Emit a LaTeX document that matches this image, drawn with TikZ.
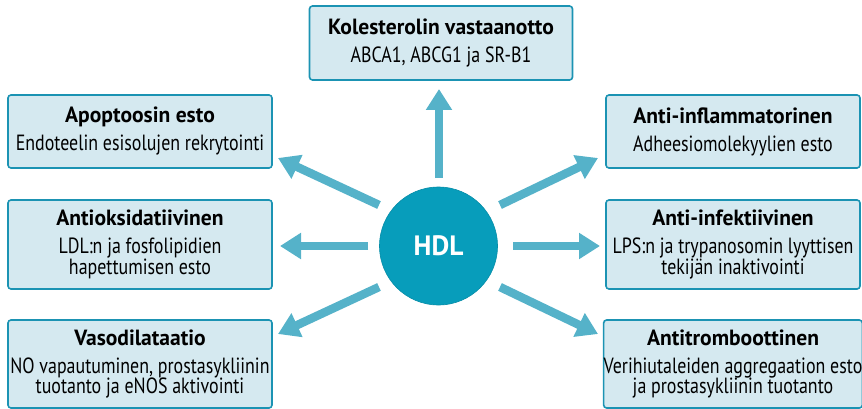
\documentclass[tikz,border=0pt]{standalone}
\usepackage{fontspec}
\setmainfont{PT Sans}[FakeStretch=0.815]
\newfontfamily\ttlfont{PT Sans}[FakeStretch=0.98]
\usetikzlibrary{arrows.meta}
\definecolor{boxfill}{HTML}{D5E9F0}
\definecolor{boxline}{HTML}{1B93B3}
\definecolor{hdlfill}{HTML}{079DBB}
\definecolor{arrcol}{HTML}{55B2C9}
\tikzset{
  infobox/.style={draw=boxline, fill=boxfill, line width=1.6pt, rounded corners=3pt,
    align=center, inner sep=0pt, font=\fontsize{22}{20.5}\selectfont},
  bigarrow/.style={draw=arrcol, line width=8.5pt, -{Triangle[width=25pt,length=21pt]}},
}
\newcommand{\ttl}[1]{{\ttlfont\bfseries #1}\\[7.5pt]}
\begin{document}
\begin{tikzpicture}[x=1pt,y=-1pt]
\useasboundingbox (0,0) rectangle (862,409);
% boxes
\node[infobox, minimum width=263pt, minimum height=74pt] (kol) at (441,43) {\ttl{Kolesterolin vastaanotto}ABCA1, ABCG1 ja SR-B1};
\node[infobox, minimum width=264pt, minimum height=73pt] (apo) at (140,131.5) {\ttl{Apoptoosin esto}Endoteelin esisolujen rekrytointi};
\node[infobox, minimum width=264pt, minimum height=89pt] (aox) at (140,244.5) {\ttl{Antioksidatiivinen}LDL:n ja fosfolipidien\\hapettumisen esto};
\node[infobox, minimum width=264pt, minimum height=88pt] (vaso) at (140,364) {\ttl{Vasodilataatio}NO vapautuminen, prostasykliinin\\tuotanto ja eNOS aktivointi};
\node[infobox, minimum width=254pt, minimum height=73pt] (ainf) at (733,131.5) {\ttl{Anti-inflammatorinen}Adheesiomolekyylien esto};
\node[infobox, minimum width=254pt, minimum height=89pt] (ainfk) at (733,244.5) {\ttl{Anti-infektiivinen}LPS:n ja trypanosomin lyyttisen\\tekijän inaktivointi};
\node[infobox, minimum width=254pt, minimum height=88pt] (atr) at (733,364) {\ttl{Antitromboottinen}Verihiutaleiden aggregaation esto\\ja prostasykliinin tuotanto};
% centre
\node[circle, fill=hdlfill, draw=hdlfill!90!black, line width=0.6pt, minimum size=118pt, inner sep=0pt,
  text=white, font=\fontsize{28}{28}\selectfont\ttlfont\bfseries] (hdl) at (438.5,246) {HDL};
% arrow ends
\coordinate (s0) at (439,178); \coordinate (t0) at (439,89);
\coordinate (s1) at (379,205); \coordinate (t1) at (278,158);
\coordinate (s2) at (368,246); \coordinate (t2) at (280,246);
\coordinate (s3) at (379,287); \coordinate (t3) at (278,334);
\coordinate (s4) at (500,205); \coordinate (t4) at (598,158);
\coordinate (s5) at (513,246); \coordinate (t5) at (600,246);
\coordinate (s6) at (500,287); \coordinate (t6) at (598,334);
\foreach \i in {0,...,6} { \draw[bigarrow] (s\i) -- (t\i); }
\end{tikzpicture}
\end{document}
